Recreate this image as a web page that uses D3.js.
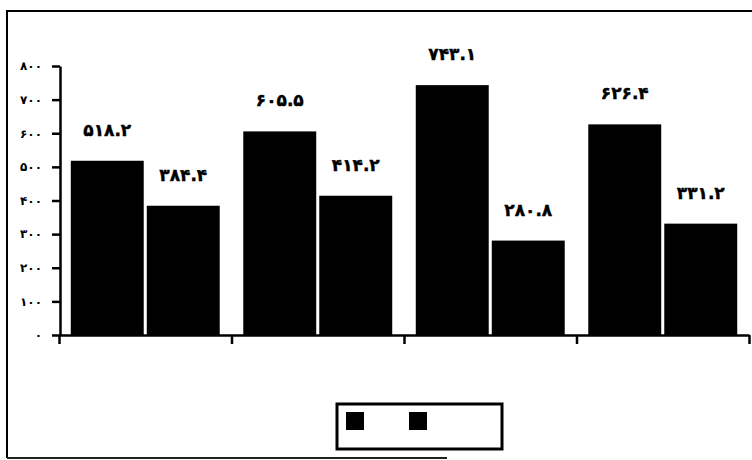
<!DOCTYPE html>
<html><head><meta charset="utf-8">
<script src="https://cdn.jsdelivr.net/npm/d3@7"></script>
<style>body{margin:0;background:#fff}svg{display:block}</style>
</head><body><svg id="c" width="752" height="460"></svg>
<script>
const groups = ["g1","g2","g3","g4"];
const series = ["s1","s2"];
const valuesS1 = [518.2, 605.5, 743.1, 626.4];
const valuesS2 = [384.4, 414.2, 280.8, 331.2];
const yTicks = [0,100,200,300,400,500,600,700,800];

const fa = s => String(s).replace(/[0-9]/g, d => "۰۱۲۳۴۵۶۷۸۹"[+d]);
const svg = d3.select("#c");
const font = "'DejaVu Sans', sans-serif";

// frame
svg.append("path").attr("d","M7,458 V11 H752").attr("fill","none").attr("stroke","#000").attr("stroke-width",2);
svg.append("line").attr("x1",7).attr("x2",447).attr("y1",458).attr("y2",458).attr("stroke","#222").attr("stroke-width",2);

const y = d3.scaleLinear().domain([0,800]).range([335,66]);
const x0 = d3.scaleBand().domain(groups).range([59,749]).padding(0);
const x1 = d3.scaleBand().domain(series).range([0,x0.bandwidth()]).paddingInner(0.04).paddingOuter(0.155);
const xb = d3.scaleLinear().domain([0,4]).range([59,749]);

const data = [];
groups.forEach((g,i)=>{ data.push({g,s:"s1",v:valuesS1[i]}); data.push({g,s:"s2",v:valuesS2[i]}); });

svg.selectAll("rect.bar").data(data).join("rect").attr("class","bar")
  .attr("x",d=>x0(d.g)+x1(d.s)).attr("width",x1.bandwidth())
  .attr("y",d=>y(d.v)).attr("height",d=>y(0)-y(d.v)).attr("fill","#000");

svg.selectAll("text.lbl").data(data).join("text").attr("class","lbl")
  .attr("x",d=>x0(d.g)+x1(d.s)+x1.bandwidth()/2).attr("y",d=>y(d.v)-25)
  .attr("text-anchor","middle").attr("font-family",font).attr("font-weight","bold")
  .attr("font-size",17).attr("fill","#000").attr("stroke","#000").attr("stroke-width",0.4)
  .text(d=>fa(d.v.toFixed(1)));

// y axis
const ya = svg.append("g").attr("transform","translate(60,0)")
  .call(d3.axisLeft(y).tickValues(yTicks).tickSizeInner(8).tickSizeOuter(0).tickPadding(10).tickFormat(fa));
ya.select(".domain").attr("stroke-width",2.5);
ya.selectAll(".tick line").attr("stroke-width",2.5);
ya.selectAll("text").attr("font-family",font).attr("font-weight","bold").attr("font-size",12);

// x axis
const xa = svg.append("g").attr("transform",`translate(0,${y(0)})`)
  .call(d3.axisBottom(xb).tickValues([0,1,2,3,4]).tickSizeInner(9).tickSizeOuter(0).tickFormat(""));
xa.select(".domain").attr("stroke-width",2.5);
xa.selectAll(".tick line").attr("stroke-width",2.5);

// legend
const lg = svg.append("g");
lg.append("rect").attr("x",337).attr("y",404).attr("width",165).attr("height",45)
  .attr("fill","#fff").attr("stroke","#000").attr("stroke-width",3);
const lx = d3.scaleOrdinal().domain(series).range([346,409]);
lg.selectAll("rect.sw").data(series).join("rect").attr("class","sw")
  .attr("x",d=>lx(d)).attr("y",412).attr("width",18).attr("height",18).attr("fill","#000");
</script></body></html>
